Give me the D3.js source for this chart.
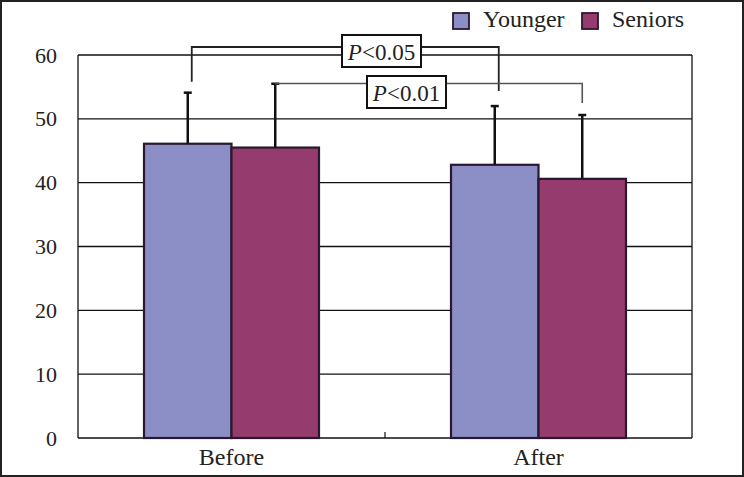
<!DOCTYPE html>
<html>
<head>
<meta charset="utf-8">
<script src="https://cdn.jsdelivr.net/npm/d3@7"></script>
<style>
	body { margin: 0; background: #fff; }
	svg { display: block; }
	svg text { font-family: "Liberation Serif", Tinos, "Times New Roman", Times, "DejaVu Serif", serif; }
</style>
</head>
<body>
<svg id="chart" width="744" height="477"></svg>
<script>
// données
const categories = ["Before", "After"];
const series = ["Younger", "Seniors"];
const means = {Younger: [46.1, 42.8], Seniors: [45.5, 40.6]};
const sd = {Younger: [8.0, 9.2], Seniors: [10.0, 10.0]};
const yTicks = [0, 10, 20, 30, 40, 50, 60];
const colors = {Younger: "#8b8fc6", Seniors: "#963b6d"};
// comparaisons : [série, catégorie gauche, catégorie droite, libellé]
const comparisons = [
	["Younger", "Before", "After", "0.05"],
	["Seniors", "Before", "After", "0.01"]
];

let svg = d3.select("#chart");
let W = 744, H = 477;
let margin = {top: 55, right: 52, bottom: 39, left: 78};

// cadre extérieur
svg.append("rect")
	.attr("x", 1).attr("y", 1)
	.attr("width", W - 2).attr("height", H - 2)
	.attr("fill", "none").attr("stroke", "#222").attr("stroke-width", 2);

let x0 = d3.scaleBand()
	.domain(categories)
	.range([margin.left, W - margin.right])
	.paddingInner(0.43)
	.paddingOuter(0.215);
let x1 = d3.scaleBand()
	.domain(series)
	.range([0, x0.bandwidth()]);
let y = d3.scaleLinear()
	.domain([0, 60])
	.range([H - margin.bottom, margin.top]);

// grille + cadre du graphique
svg.append("g")
	.selectAll("line")
	.data(yTicks)
	.join("line")
	.attr("x1", margin.left).attr("x2", W - margin.right)
	.attr("y1", d => y(d)).attr("y2", d => y(d))
	.attr("stroke", "#111").attr("stroke-width", 1.3);
for (let xv of [margin.left, W - margin.right])
	svg.append("line")
		.attr("x1", xv).attr("x2", xv)
		.attr("y1", y(0)).attr("y2", y(60))
		.attr("stroke", "#111").attr("stroke-width", 1.3);

// axe Y
let ya = svg.append("g")
	.attr("transform", `translate(${margin.left},0)`)
	.call(d3.axisLeft(y).tickValues(yTicks).tickSize(0).tickPadding(21))
	.attr("font-family", null)
	.attr("font-size", null);
ya.select(".domain").remove();
ya.selectAll("text")
	.style("font-size", "22px")
	.attr("fill", "#222");

// séparateur de catégories sur l'axe X
let mid = (x0(categories[0]) + x0.bandwidth() + x0(categories[1])) / 2;
svg.append("line")
	.attr("x1", mid).attr("x2", mid)
	.attr("y1", y(0)).attr("y2", y(0) - 6)
	.attr("stroke", "#111").attr("stroke-width", 1.2);

// libellés X
svg.append("g")
	.selectAll("text")
	.data(categories)
	.join("text")
	.attr("x", d => x0(d) + x0.bandwidth() / 2)
	.attr("y", 465)
	.attr("text-anchor", "middle")
	.style("font-size", "24px")
	.attr("fill", "#222")
	.text(d => d);

// barres
let rows = [];
for (let s of series)
	categories.forEach((c, k) => rows.push({s, c, v: means[s][k], e: sd[s][k]}));
let bx = d => x0(d.c) + x1(d.s);
svg.append("g")
	.selectAll("rect")
	.data(rows)
	.join("rect")
	.attr("x", bx)
	.attr("y", d => y(d.v))
	.attr("width", x1.bandwidth())
	.attr("height", d => y(0) - y(d.v))
	.attr("fill", d => colors[d.s])
	.attr("stroke", "#2a1830")
	.attr("stroke-width", 2.2);

// barres d'erreur (vers le haut seulement)
let eb = svg.append("g").attr("stroke", "#111").attr("stroke-width", 2.5);
eb.selectAll(".v")
	.data(rows)
	.join("line")
	.attr("x1", d => bx(d) + x1.bandwidth() / 2)
	.attr("x2", d => bx(d) + x1.bandwidth() / 2)
	.attr("y1", d => y(d.v))
	.attr("y2", d => y(d.v + d.e));
eb.selectAll(".c")
	.data(rows)
	.join("line")
	.attr("x1", d => bx(d) + x1.bandwidth() / 2 - 4)
	.attr("x2", d => bx(d) + x1.bandwidth() / 2 + 4)
	.attr("y1", d => y(d.v + d.e))
	.attr("y2", d => y(d.v + d.e));

// crochets de significativité
let brackets = [
	{cmp: comparisons[0], dx: 4, top: 47, gapL: 11, gapR: 15, color: "#222", w: 1.8, box: [342, 35, 79, 32]},
	{cmp: comparisons[1], dx: 0, top: 83.5, gapL: 0, gapR: 12, color: "#555", w: 1.6, box: [367, 76, 79, 32]}
];
for (let b of brackets) {
	let [s, cl, cr, p] = b.cmp;
	let kl = categories.indexOf(cl), kr = categories.indexOf(cr);
	let xl = x0(cl) + x1(s) + x1.bandwidth() / 2 + b.dx;
	let xr = x0(cr) + x1(s) + x1.bandwidth() / 2 + b.dx;
	let yl = y(means[s][kl] + sd[s][kl]) - b.gapL;
	let yr = y(means[s][kr] + sd[s][kr]) - b.gapR;
	svg.append("path")
		.attr("d", `M${xl},${yl}V${b.top}H${xr}V${yr}`)
		.attr("fill", "none")
		.attr("stroke", b.color)
		.attr("stroke-width", b.w);
	let [bxp, byp, bw, bh] = b.box;
	svg.append("rect")
		.attr("x", bxp).attr("y", byp)
		.attr("width", bw).attr("height", bh)
		.attr("fill", "#fff").attr("stroke", "#111").attr("stroke-width", 2);
	let t = svg.append("text")
		.attr("x", bxp + bw / 2)
		.attr("y", byp + 25)
		.attr("text-anchor", "middle")
		.style("font-size", "23px")
		.attr("fill", "#222");
	t.append("tspan").style("font-style", "italic").text("P");
	t.append("tspan").text("<" + p);
}

// légende
let lg = svg.append("g")
	.selectAll("g")
	.data(series)
	.join("g")
	.attr("transform", (d, k) => `translate(${[453, 582][k]},13)`);
lg.append("rect")
	.attr("width", 16).attr("height", 16)
	.attr("fill", d => colors[d])
	.attr("stroke", "#2a1830").attr("stroke-width", 1.8);
lg.append("text")
	.attr("x", 30).attr("y", 14)
	.style("font-size", "24px")
	.attr("fill", "#222")
	.text(d => d);
</script>
</body>
</html>
